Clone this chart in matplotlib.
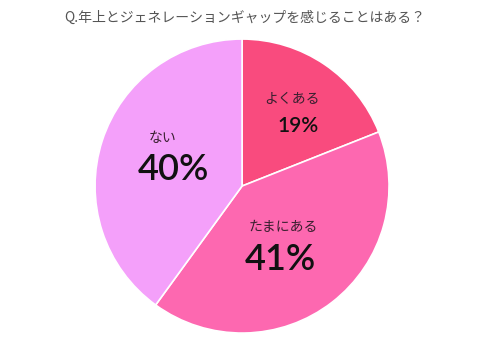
import matplotlib.pyplot as plt

labels = ["よくある", "たまにある", "ない"]
values = [19, 41, 40]
colors = ["#F94B7E", "#FD68B0", "#F4A0FA"]
title = "Q.年上とジェネレーションギャップを感じることはある？"

# label / percent positions (pie units) and percent font sizes
label_pos = [(0.34, 0.59), (0.28, -0.28), (-0.54, 0.33)]
pct_pos = [(0.38, 0.41), (0.26, -0.50), (-0.47, 0.11)]
pct_size = [15, 26, 26]

fig = plt.figure(figsize=(4.9, 3.42), dpi=100)
ax = fig.add_axes([0.194, 0.026, 0.6, 0.86])
ax.pie(values, colors=colors, startangle=90, counterclock=False,
       wedgeprops=dict(edgecolor="white", linewidth=1.2))
ax.set_xlim(-1, 1)
ax.set_ylim(-1, 1)
ax.set_aspect("equal")

for lab, v, lp, pp, fs in zip(labels, values, label_pos, pct_pos, pct_size):
    ax.text(lp[0], lp[1], lab, ha="center", va="center", fontsize=10,
            family=["Noto Sans CJK JP", "DejaVu Sans"], color="#3a2030")
    ax.text(pp[0], pp[1], f"{v}%", ha="center", va="center", fontsize=fs,
            family=["Lato", "DejaVu Sans"], fontweight="semibold",
            color="#111111")

fig.text(0.5, 0.947, title, ha="center", va="center", fontsize=10,
         family=["Noto Sans CJK JP", "DejaVu Sans"], color="#555555")

fig.savefig("out.png", dpi=100)
